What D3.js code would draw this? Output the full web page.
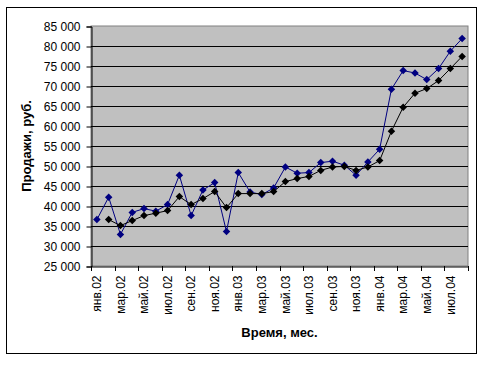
<!DOCTYPE html>
<html>
<head>
<meta charset="utf-8">
<script src="https://cdn.jsdelivr.net/npm/d3@7"></script>
<style>
body { margin: 0; background: #fff; }
svg { font-family: "Liberation Sans", Arial, sans-serif; }
</style>
</head>
<body>
<svg width="486" height="365"></svg>
<script>
// месяцы янв.02 - авг.04
var months = ["янв.02","фев.02","мар.02","апр.02","май.02","июн.02","июл.02","авг.02","сен.02","окт.02","ноя.02","дек.02",
              "янв.03","фев.03","мар.03","апр.03","май.03","июн.03","июл.03","авг.03","сен.03","окт.03","ноя.03","дек.03",
              "янв.04","фев.04","мар.04","апр.04","май.04","июн.04","июл.04","авг.04"];
// продажи
var sales = [36600,42200,32900,38400,39350,38700,40350,47700,37600,44000,45850,33600,
             48350,43500,42850,44500,49750,48200,48350,50850,51200,50200,47700,51000,
             54200,69200,73850,73250,71600,74350,78700,81850];
// сглаженный ряд (с фев.02)
var smooth = [null,36600,35100,36350,37600,38200,38850,42350,40350,41850,43600,39600,
              43100,43100,43100,43600,46100,46850,47400,48900,49750,49900,48900,49750,
              51350,58700,64700,68200,69350,71350,74350,77400];
var yTicks = [25000,30000,35000,40000,45000,50000,55000,60000,65000,70000,75000,80000,85000];

function draw(){
    var svg = d3.select("svg");
    var left = 91, top = 26, right = 468, bottom = 266;

    // рамка диаграммы
    svg.append("rect").attr("x", 6.5).attr("y", 7.5).attr("width", 470).attr("height", 346)
        .attr("fill", "#fff").attr("stroke", "#000").attr("stroke-width", 1);

    var x = d3.scaleBand().domain(months).range([left, right]).padding(0);
    var y = d3.scaleLinear().domain([25000, 85000]).range([bottom, top]);

    svg.append("rect").attr("x", left).attr("y", top).attr("width", right - left).attr("height", bottom - top)
        .attr("fill", "#c0c0c0").attr("stroke", "#808080");

    // сетка
    svg.append("g").selectAll("line").data(yTicks.slice(1, -1)).enter().append("line")
        .attr("x1", left).attr("x2", right)
        .attr("y1", function(d){ return Math.round(y(d)) + 0.5; })
        .attr("y2", function(d){ return Math.round(y(d)) + 0.5; })
        .attr("stroke", "#000");

    // ось Y
    var yAxis = svg.append("g").attr("transform", "translate(" + (left + 0.5) + ",0.5)")
        .call(d3.axisLeft(y).tickValues(yTicks).tickSize(5).tickPadding(6)
            .tickFormat(function(d){ return d3.format(",")(d).replace(",", " "); }));
    yAxis.select(".domain").attr("stroke", "#000");
    yAxis.selectAll("text").attr("font-size", 12).attr("fill", "#000");

    // ось X
    var xAxis = svg.append("g").attr("transform", "translate(0," + (bottom + 0.5) + ")")
        .call(d3.axisBottom(x).tickSize(0).tickFormat(function(d, i){ return i % 2 == 0 ? d : ""; }));
    xAxis.select(".domain").attr("stroke", "#000");
    xAxis.selectAll("text")
        .attr("font-size", 12).attr("fill", "#000")
        .attr("transform", "rotate(-90)")
        .attr("text-anchor", "end")
        .attr("x", -9).attr("y", 0).attr("dy", "0.35em");
    var bounds = d3.range(0, months.length + 1, 2);
    svg.append("g").selectAll("line").data(bounds).enter().append("line")
        .attr("x1", function(d){ return Math.round(left + d * x.step()) + 0.5; })
        .attr("x2", function(d){ return Math.round(left + d * x.step()) + 0.5; })
        .attr("y1", bottom).attr("y2", bottom + 5)
        .attr("stroke", "#000");

    var cx = function(d, i){ return x(months[i]) + x.bandwidth() / 2; };
    var diamond = d3.symbol().type(d3.symbolDiamond2).size(36);

    function markers(data, color){
        var line = d3.line().defined(function(d){ return d != null; }).x(cx).y(function(d){ return y(d); });
        svg.append("path").datum(data).attr("d", line).attr("fill", "none").attr("stroke", color).attr("stroke-width", 1);
        var pts = data.map(function(d, i){ return {v: d, i: i}; }).filter(function(p){ return p.v != null; });
        svg.append("g").selectAll("path").data(pts).enter().append("path")
            .attr("d", diamond)
            .attr("transform", function(p){ return "translate(" + cx(p.v, p.i) + "," + y(p.v) + ")"; })
            .attr("fill", color);
    }
    markers(sales, "#000080");
    markers(smooth, "#000");

    // подписи осей
    svg.append("text").attr("transform", "translate(31," + ((top + bottom) / 2) + ") rotate(-90)")
        .attr("text-anchor", "middle").attr("font-size", 13).attr("font-weight", "bold")
        .text("Продажи, руб.");
    svg.append("text").attr("x", (left + right) / 2).attr("y", 337)
        .attr("text-anchor", "middle").attr("font-size", 13).attr("font-weight", "bold")
        .text("Время, мес.");
}
draw();
</script>
</body>
</html>
